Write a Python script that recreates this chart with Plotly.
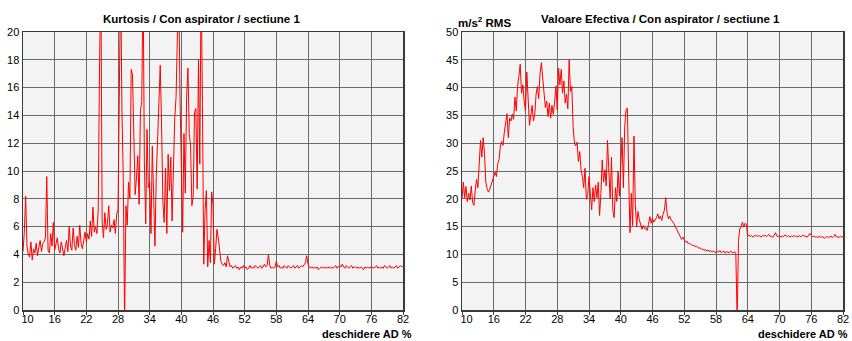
import numpy as np
import plotly.graph_objects as go

# ---- data -----------------------------------------------------------
deschidere = np.round(np.arange(10, 82.001, 0.25), 2)   # x grid (deschidere AD %)

kurtosis = [
    4.2, 5.6, 8.2, 4.6, 4.0, 3.8, 4.9, 3.6, 4.4, 4.1, 4.8, 3.9,        # 10
    4.5, 5.0, 4.2, 4.8, 4.9, 5.2, 9.6, 4.3, 4.1, 5.5, 4.6, 6.3,        # 13
    4.3, 4.8, 5.2, 4.4, 4.1, 4.9, 4.3, 3.9, 4.5, 5.0, 4.2, 6.0,        # 16
    4.6, 4.3, 5.9, 4.7, 4.3, 5.3, 4.5, 6.1, 4.8, 4.4, 5.0, 5.6,        # 19
    4.9, 5.5, 5.1, 6.4, 5.3, 7.4, 5.6, 6.0, 5.5, 7.2, 17.4, 24.0,      # 22
    6.3, 5.2, 7.0, 5.8, 6.2, 7.5, 5.6, 6.1, 5.9, 6.5, 5.5, 6.9,        # 25
    7.2, 16.7, 24.0, 14.3, 9.5, -1.0, 7.5, 6.1, 9.2, 8.0, 17.3, 16.9,  # 28
    12.7, 8.3, 9.5, 11.1, 7.6, 14.3, 15.0, 24.0, 10.6, 6.2, 13.0, 8.8, # 31
    9.2, 5.5, 11.8, 7.0, 4.6, 9.6, 12.1, 15.7, 17.6, 13.5, 7.8, 6.3,   # 34
    10.2, 5.5, 11.2, 8.6, 11.0, 6.4, 10.3, 13.8, 15.3, 18.7, 24.0, 15.3,  # 37
    10.8, 5.6, 12.7, 8.4, 15.3, 17.4, 12.7, 11.8, 7.5, 8.2, 14.2, 14.5,   # 40
    8.7, 18.0, 10.5, 24.0, 14.8, 3.3, 7.2, 8.6, 3.1, 5.0, 3.4, 8.5,    # 43
    7.6, 3.3, 4.4, 5.8, 5.2, 4.2, 3.5, 3.3, 3.2, 3.4, 3.1, 3.9,        # 46
    3.4, 3.1, 3.2, 3.0, 3.1, 3.2, 3.0, 3.1, 2.9, 3.1, 3.0, 3.2,        # 49
    3.0, 3.1, 2.9, 3.0, 3.2, 3.0, 3.1, 3.0, 3.2, 3.1, 3.0, 3.1,        # 52
    3.2, 3.0, 3.1, 3.3, 3.1, 3.2, 4.0, 3.2, 3.0, 3.1, 3.0, 3.1,        # 55
    3.5, 3.1, 3.2, 3.0, 3.1, 3.0, 3.2, 3.1, 3.0, 3.2, 3.1, 3.0,        # 58
    3.1, 3.2, 3.0, 3.1, 3.2, 3.0, 3.1, 3.2, 3.1, 3.3, 3.4, 3.9,        # 61
    3.3, 3.1, 3.0, 3.1, 3.0, 3.1, 3.0, 3.1, 2.9, 3.0, 3.1, 3.0,        # 64
    3.1, 3.0, 3.1, 3.0, 3.1, 3.0, 3.1, 3.0, 3.1, 3.2, 3.0, 3.1,        # 67
    3.2, 3.1, 3.3, 3.1, 3.0, 3.2, 3.1, 3.0, 3.1, 3.2, 3.0, 3.1,        # 70
    3.1, 3.0, 3.1, 3.0, 3.1, 3.0, 2.9, 3.1, 3.0, 3.1, 3.0, 3.1,        # 73
    3.0, 3.1, 3.0, 3.1, 3.2, 3.0, 3.1, 3.0, 3.1, 3.0, 3.2, 3.1,        # 76
    3.0, 3.1, 3.2, 3.0, 3.1, 3.0, 3.1, 3.2, 3.0, 3.1, 3.2, 3.1,        # 79
    3.2,                                                               # 82
]

valoare_efectiva = [
    20.0, 23.0, 20.2, 22.2, 19.5, 21.0, 19.8, 22.3, 19.4, 18.8, 21.5, 23.5,  # 10
    22.0, 25.5, 30.5, 27.5, 31.0, 28.2, 23.0, 21.8, 21.2, 21.7, 22.5, 23.6,  # 13
    24.2, 24.8, 24.0, 26.3, 27.0, 29.5, 30.3, 29.6, 32.0, 33.8, 35.3, 31.0,  # 16
    34.5, 34.0, 35.2, 34.3, 38.3, 35.8, 40.2, 42.0, 44.2, 39.0, 40.5, 37.5,  # 19
    35.8, 42.8, 38.0, 33.2, 35.0, 36.8, 34.0, 35.2, 38.8, 40.2, 38.0, 42.6,  # 22
    44.5, 41.2, 38.2, 36.4, 37.6, 34.8, 37.2, 34.5, 36.8, 35.2, 37.4, 40.3,  # 25
    36.0, 43.5, 40.5, 43.3, 39.0, 41.2, 37.2, 38.8, 36.2, 45.0, 39.3, 40.2,  # 28
    33.0, 30.0, 29.5, 30.2, 26.7, 28.5, 25.2, 24.0, 22.0, 25.5, 19.9, 20.6,  # 31
    24.0, 21.0, 18.0, 22.0, 19.5, 22.5, 20.2, 23.0, 17.0, 21.0, 27.0, 23.0,  # 34
    25.2, 22.3, 30.5, 25.0, 20.0, 27.5, 18.0, 16.6, 22.0, 19.5, 25.0, 20.5,  # 37
    26.8, 31.0, 22.0, 33.0, 36.1, 36.3, 24.0, 13.9, 21.0, 15.2, 31.3, 19.0,  # 40
    15.0, 17.7, 16.3, 15.5, 14.5, 15.2, 14.6, 14.8, 14.3, 15.4, 16.8, 15.6,  # 43
    16.5, 15.8, 16.2, 16.6, 17.3, 16.4, 16.9, 16.1, 17.2, 18.0, 20.2, 17.5,  # 46
    16.4, 16.9, 16.2, 16.0, 15.6, 15.1, 14.8, 14.0, 13.6, 13.2, 12.7, 13.1,  # 49
    12.6, 12.2, 12.4, 11.9, 12.0, 11.8, 11.6, 11.7, 11.4, 11.5, 11.3, 11.1,  # 52
    11.2, 10.9, 11.0, 10.7, 10.9, 10.6, 10.8, 10.5, 10.7, 10.4, 10.6, 10.5,  # 55
    10.3, 10.6, 10.4, 10.7, 10.3, 10.5, 10.6, 10.2, 10.5, 10.4, 10.3, 10.6,  # 58
    10.4, 10.2, 10.5, 10.1, -2.0, 12.5, 14.6, 15.0, 15.8, 14.9, 15.6, 15.3,  # 61
    13.3, 13.5, 13.2, 13.4, 13.1, 13.3, 13.5, 13.2, 13.4, 13.3, 13.1, 13.4,  # 64
    13.3, 13.5, 13.2, 13.4, 13.6, 13.2, 13.3, 13.1, 13.4, 13.9, 13.3, 13.2,  # 67
    13.4, 13.1, 13.3, 13.2, 13.5, 13.3, 13.2, 13.4, 13.1, 13.3, 13.2, 13.4,  # 70
    13.2, 13.3, 13.1, 13.4, 13.2, 13.3, 13.5, 13.2, 13.3, 13.1, 13.4, 13.8,  # 73
    13.4, 13.2, 13.3, 13.1, 13.2, 13.0, 13.3, 13.1, 13.2, 13.0, 12.9, 13.1,  # 76
    13.2, 13.0, 13.1, 13.3, 13.0, 13.2, 13.6, 13.1, 13.2, 13.0, 13.3, 13.1,  # 79
    13.2,                                                                    # 82
]

x_ticks = [10, 16, 22, 28, 34, 40, 46, 52, 58, 64, 70, 76, 82]
kurt_ticks = [0, 2, 4, 6, 8, 10, 12, 14, 16, 18, 20]
rms_ticks = [0, 5, 10, 15, 20, 25, 30, 35, 40, 45, 50]

title_left = "Kurtosis / Con aspirator / sectiune 1"
title_right = "Valoare Efectiva / Con aspirator / sectiune 1"
unit_right = "m/s<sup>2</sup> RMS"
x_title = "deschidere AD %"

# ---- figure ---------------------------------------------------------
W, H = 852, 341
PL, PR, PT, PB = 23, 843, 32, 310          # plot-area edges in page pixels
ML, MT = PL, PT
MR, MB = W - PR, H - PB
PW = W - ML - MR
PH = H - MT - MB

NARROW = "Liberation Sans, Arial, sans-serif"
TICKFONT = dict(family="Liberation Sans, Arial, sans-serif", size=11, color="#000000")
GRID = "#6a6a6a"
LINE = "#3a3a3a"

# first x label sits to the right of its tick (as in the original), others centred
x_ticktext = ["\u00a0\u00a0\u00a0" + str(x_ticks[0])] + [str(v) for v in x_ticks[1:]]

fig = go.Figure()
fig.add_trace(go.Scatter(x=deschidere, y=kurtosis, mode="lines",
                         line=dict(color="#ff0000", width=1),
                         xaxis="x", yaxis="y", showlegend=False, hoverinfo="skip"))
fig.add_trace(go.Scatter(x=deschidere, y=valoare_efectiva, mode="lines",
                         line=dict(color="#ff0000", width=1),
                         xaxis="x2", yaxis="y2", showlegend=False, hoverinfo="skip"))

xcommon = dict(range=[10, 82], tickvals=x_ticks, ticktext=x_ticktext,
               showgrid=True, gridcolor=GRID, gridwidth=1, zeroline=False,
               ticks="outside", ticklen=3, tickcolor=LINE, ticklabelstandoff=-5,
               ticklabeloverflow="allow",
               showline=True, linecolor=LINE, linewidth=1.5, mirror=True,
               tickfont=TICKFONT, fixedrange=True)
ycommon = dict(showgrid=True, gridcolor=GRID, gridwidth=1, zeroline=False,
               ticks="", showline=True, linecolor=LINE, linewidth=1.5, mirror=True,
               tickfont=TICKFONT, fixedrange=True, domain=[0, 1])

x1_dom = [0, (403 - PL) / PW]
x2_dom = [(462 - PL) / PW, 1]

fig.update_layout(
    width=W, height=H,
    margin=dict(l=ML, r=MR, t=MT, b=MB, autoexpand=False),
    paper_bgcolor="#ffffff",
    plot_bgcolor="#f3f3f3",
    xaxis=dict(xcommon, domain=x1_dom, anchor="y"),
    yaxis=dict(ycommon, range=[0, 20], tickvals=kurt_ticks, anchor="x"),
    xaxis2=dict(xcommon, domain=x2_dom, anchor="y2"),
    yaxis2=dict(ycommon, range=[0, 50], tickvals=rms_ticks, anchor="x2"),
    showlegend=False,
)

def px_x(p):               # page pixel -> paper fraction
    return (p - PL) / PW

def px_y(p):
    return 1 + (PT - p) / PH

ann = [
    dict(text="<b>" + title_left + "</b>", x=px_x(201), y=px_y(18.5),
         xanchor="center", yanchor="middle", font=dict(family=NARROW, size=11.5)),
    dict(text="<b>" + title_right + "</b>", x=px_x(660), y=px_y(18.5),
         xanchor="center", yanchor="middle", font=dict(family=NARROW, size=11.5)),
    dict(text="<b>" + unit_right + "</b>", x=px_x(456), y=px_y(31),
         xanchor="left", yanchor="bottom", font=dict(family=NARROW, size=11.5)),
    dict(text="<b>" + x_title + "</b>", x=px_x(414), y=px_y(334),
         xanchor="right", yanchor="middle", font=dict(family=NARROW, size=11)),
    dict(text="<b>" + x_title + "</b>", x=px_x(850), y=px_y(334),
         xanchor="right", yanchor="middle", font=dict(family=NARROW, size=11)),
]
for a in ann:
    a.update(xref="paper", yref="paper", showarrow=False)
    a["font"]["color"] = "#000000"
fig.update_layout(annotations=ann)

fig.write_html(
    "out.html",
    config={"displayModeBar": False, "staticPlot": True},
    post_script="document.body.style.margin='0';document.body.style.overflow='hidden';",
)
